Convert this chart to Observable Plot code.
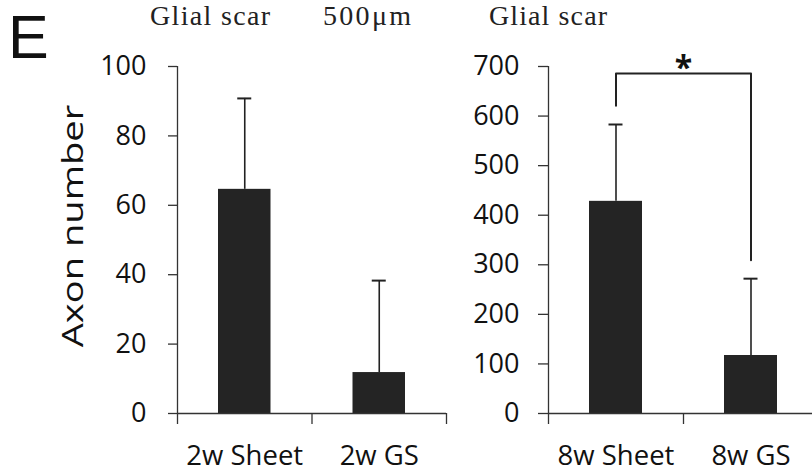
<!DOCTYPE html>
<html>
<head>
<meta charset="utf-8">
<script src="https://cdn.jsdelivr.net/npm/d3@7"></script>
<script src="https://cdn.jsdelivr.net/npm/@observablehq/plot@0.6"></script>
<style>
  html, body { margin: 0; padding: 0; background: #fff; }
  #wrap { position: relative; width: 812px; height: 473px; overflow: hidden; background: #fff; }
  #left, #right, #overlay { position: absolute; top: 0; }
  #left { left: 0; }
  #right { left: 460px; }
  #overlay { left: 0; pointer-events: none; }
</style>
</head>
<body>
<div id="wrap">
  <div id="left"></div>
  <div id="right"></div>
  <svg id="overlay" width="812" height="473">
    <text x="8" y="58" font-family="'Liberation Sans', Arial, sans-serif" font-size="61" fill="#111">E</text>
    <text x="150" y="25" textLength="120" font-family="'Liberation Serif', 'Times New Roman', serif" font-size="28" fill="#222">Glial scar</text>
    <text x="323" y="25" textLength="88" font-family="'Liberation Serif', 'Times New Roman', serif" font-size="28" fill="#222">500μm</text>
    <text x="489" y="25" textLength="118" font-family="'Liberation Serif', 'Times New Roman', serif" font-size="28" fill="#222">Glial scar</text>
    <text transform="translate(83,226) rotate(-90) scale(1.27,1)" text-anchor="middle" font-family="'Open Sans', sans-serif" font-size="30" fill="#111">Axon number</text>
  </svg>
</div>
<script>
// ---- data ----
const leftCategories = ["2w Sheet", "2w GS"];
const leftMeans = [64.6, 11.8];
const leftErrors = [26.2, 26.5];
const leftTicks = [0, 20, 40, 60, 80, 100];

const rightCategories = ["8w Sheet", "8w GS"];
const rightMeans = [428, 117];
const rightErrors = [155, 155];
const rightTicks = [0, 100, 200, 300, 400, 500, 600, 700];

// significance bracket (right panel), in axon-number units
const sigPair = [0, 1];          // indices of compared categories
const bracketTop = 686;
const bracketEnds = [621, 309];
const sigLabel = "*";

function panel({categories, means, errors, ticks, width, marginLeft, marginRight, tickSize, tickPadding, extra = () => []}) {
  const data = categories.map((c, i) => ({c, i, mean: means[i], top: means[i] + errors[i]}));
  const n = categories.length;
  return Plot.plot({
    width, height: 473,
    marginLeft, marginRight, marginTop: 66, marginBottom: 60,
    style: {background: "none", maxWidth: "none", overflow: "visible", fontFamily: "'Open Sans', sans-serif", color: "#111"},
    x: {type: "linear", domain: [0, n], axis: null},
    y: {domain: [ticks[0], ticks[ticks.length - 1]], axis: null},
    marks: [
      Plot.rectY(data, {x1: "i", x2: d => d.i + 1, y1: 0, y2: "mean", insetLeft: 41, insetRight: 41, fill: "#242424"}),
      Plot.ruleX(data, {x: d => d.i + 0.5, y1: "mean", y2: "top", stroke: "#222", strokeWidth: 1.6}),
      Plot.ruleY(data, {y: "top", x1: d => d.i + 0.5, x2: d => d.i + 0.5, insetLeft: -7, insetRight: -7, stroke: "#222", strokeWidth: 2}),
      Plot.ruleY([0], {stroke: "#333", strokeWidth: 1.3}),
      Plot.ruleX([0], {stroke: "#333", strokeWidth: 1.3}),
      Plot.axisY({ticks, tickSize, tickPadding, fontSize: 27, label: null, stroke: "#333", strokeWidth: 1.3}),
      Plot.axisX({ticks: d3.range(n + 1), tickSize: 11, tickFormat: () => "", label: null, stroke: "#333", strokeWidth: 1.3}),
      Plot.axisX({ticks: d3.range(n).map(i => i + 0.5), tickSize: 0, tickPadding: 32, tickFormat: v => categories[Math.floor(v)], fontSize: 27.5, label: null}),
      ...extra(data)
    ]
  });
}

document.getElementById("left").append(panel({
  categories: leftCategories, means: leftMeans, errors: leftErrors, ticks: leftTicks,
  width: 460, marginLeft: 177, marginRight: 14, tickSize: 9, tickPadding: 22
}));

document.getElementById("right").append(panel({
  categories: rightCategories, means: rightMeans, errors: rightErrors, ticks: rightTicks,
  width: 370, marginLeft: 88, marginRight: 12, tickSize: 10, tickPadding: 19,
  extra: () => {
    const [a, b] = sigPair;
    const pts = [
      {x: a + 0.5, y: bracketEnds[0]},
      {x: a + 0.5, y: bracketTop},
      {x: b + 0.5, y: bracketTop},
      {x: b + 0.5, y: bracketEnds[1]}
    ];
    return [
      Plot.line(pts, {x: "x", y: "y", stroke: "#222", strokeWidth: 2}),
      Plot.text([sigLabel], {x: (a + b + 1) / 2, y: bracketTop, text: d => d, lineAnchor: "bottom", dy: 6, fontSize: 32, fontWeight: "bold", fill: "#111"})
    ];
  }
}));
</script>
</body>
</html>
